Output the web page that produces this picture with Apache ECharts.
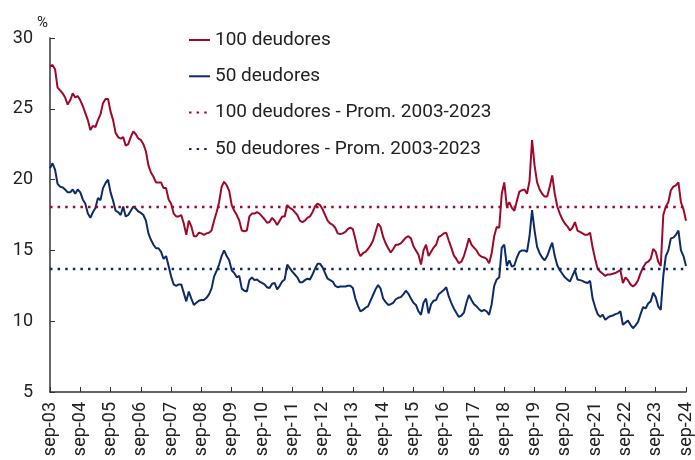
<!DOCTYPE html>
<html>
<head>
<meta charset="utf-8">
<script src="https://cdn.jsdelivr.net/npm/echarts@6/dist/echarts.min.js"></script>
<style>
  html, body { margin: 0; padding: 0; background: #fff; }
  #chart { width: 695px; height: 460px; }
</style>
</head>
<body>
<div id="chart"></div>
<script>
// meses sep-03 .. sep-24
var meses = ["ene", "feb", "mar", "abr", "may", "jun", "jul", "ago", "sep", "oct", "nov", "dic"];
var categorias = [];
for (var k = 0; k <= 252; k++) {
  var m = (8 + k) % 12;
  var a = 3 + Math.floor((8 + k) / 12);
  categorias.push(meses[m] + "-" + (a < 10 ? "0" + a : "" + a));
}

// 100 deudores (%)
var deudores100 = [
  28.0, 28.1, 27.8, 26.5, 26.3, 26.1, 25.8, 25.3, 25.6, 26.1, 25.8, 25.9,
  25.6, 25.2, 24.7, 24.2, 23.5, 23.8, 23.7, 24.2, 24.6, 25.4, 25.7, 25.7,
  24.8, 24.2, 23.3, 23.0, 22.9, 23.0, 22.4, 22.5, 23.0, 23.4, 23.2, 22.9,
  22.8, 22.5, 22.0, 21.0, 20.5, 20.2, 19.8, 19.8, 19.8, 19.4, 19.4, 18.6,
  18.3, 17.6, 17.4, 17.4, 17.5, 16.9, 16.1, 17.1, 16.7, 16.0, 16.0, 16.25,
  16.2, 16.1, 16.2, 16.25, 16.4, 17.1, 17.7, 18.4, 19.5, 19.85, 19.6, 19.2,
  18.2, 17.8, 17.5, 17.1, 16.4, 16.35, 16.4, 17.4, 17.6, 17.6, 17.7, 17.6,
  17.4, 17.2, 16.95, 17.0, 17.3, 17.1, 16.8, 17.1, 17.4, 17.4, 18.2, 18.0,
  17.9, 17.7, 17.5, 17.1, 17.0, 17.1, 17.3, 17.4, 17.7, 18.1, 18.3, 18.2,
  17.9, 17.5, 17.1, 16.9, 16.8, 16.6, 16.2, 16.15, 16.2, 16.3, 16.5, 16.6,
  16.5, 15.8, 15.0, 14.6, 14.8, 14.9, 15.1, 15.35, 15.7, 16.3, 16.9, 16.65,
  15.95, 15.5, 15.15, 14.85, 15.1, 15.4, 15.4, 15.5, 15.7, 15.9, 16.0, 15.85,
  15.3, 15.0, 14.7, 14.0, 15.0, 15.4, 14.6, 14.9, 15.2, 15.4, 15.95, 16.05,
  16.2, 16.25, 15.7, 15.2, 14.65, 14.4, 14.1, 14.2, 14.6, 15.2, 15.85, 15.4,
  15.2, 15.0, 14.7, 14.55, 14.5, 14.4, 14.1, 14.8, 16.0, 16.65, 16.6, 19.0,
  19.8, 18.1, 18.4, 18.0, 17.8, 18.5, 19.15, 19.25, 19.3, 19.0, 19.9, 22.8,
  21.0, 19.8, 19.3, 19.0, 18.8, 18.8, 19.5, 20.3, 19.0, 18.1, 17.6, 17.2,
  16.9, 16.7, 16.4, 16.6, 17.0, 16.4, 16.3, 16.2, 16.1, 16.1, 16.25, 15.2,
  14.4, 13.7, 13.5, 13.35, 13.2, 13.3, 13.3, 13.35, 13.4, 13.5, 13.6, 12.7,
  13.1, 12.9, 12.6, 12.45, 12.6, 12.9, 13.4, 13.8, 14.1, 14.2, 14.4, 15.1,
  14.9, 14.2, 13.9, 17.5, 18.1, 18.4, 19.25, 19.5, 19.6, 19.8, 18.4, 17.9,
  17.1
];

// 50 deudores (%)
var deudores50 = [
  20.8, 21.15, 20.7, 19.7, 19.5, 19.45, 19.3, 19.1, 19.1, 19.3, 19.0, 19.3,
  19.1, 18.6, 18.3, 17.6, 17.3, 17.7, 18.0, 18.7, 18.55, 19.4, 19.75, 20.0,
  19.1, 18.5, 17.8, 17.7, 17.5, 18.1, 17.4, 17.5, 17.8, 18.1, 17.95, 17.75,
  17.65, 17.5, 17.1, 16.2, 15.75, 15.4, 15.15, 15.15, 14.9, 14.4, 14.6, 13.9,
  13.15, 12.6, 12.5, 12.6, 12.6, 12.0, 11.4, 12.1, 11.6, 11.15, 11.3, 11.45,
  11.5, 11.5, 11.65, 11.9, 12.3, 13.15, 13.55, 14.0, 14.6, 15.0, 14.6, 14.3,
  13.6, 13.4, 13.1, 13.2, 12.3, 12.15, 12.1, 12.9, 13.1, 12.9, 12.95, 12.8,
  12.7, 12.6, 12.4, 12.35, 12.65, 12.7, 12.25, 12.5, 12.8, 12.95, 14.0, 13.75,
  13.5, 13.3, 13.1, 12.75, 12.75, 12.9, 13.0, 12.95, 13.3, 13.7, 14.05, 14.05,
  13.8, 13.4, 13.0, 12.9, 12.8, 12.5, 12.4, 12.45, 12.45, 12.45, 12.5, 12.5,
  12.35, 11.6, 11.1, 10.7, 10.8, 10.95, 11.05, 11.45, 11.85, 12.25, 12.55, 12.3,
  11.6, 11.35, 11.15, 11.2, 11.3, 11.55, 11.65, 11.7, 11.9, 12.15, 11.95, 11.6,
  11.3, 11.15, 10.7, 10.45, 11.3, 11.6, 10.55, 11.2, 11.45, 11.5, 11.9, 12.05,
  12.2, 12.4, 11.75, 11.3, 10.9, 10.6, 10.3, 10.4, 10.6, 11.3, 11.85, 11.5,
  11.2, 11.05, 10.85, 10.7, 10.8, 10.7, 10.45, 11.2, 12.5, 12.95, 13.1, 15.2,
  15.4, 13.9, 14.3, 13.85, 13.95, 14.5, 14.9, 15.0, 15.0, 14.9, 16.0, 17.85,
  16.4, 15.25, 14.8, 14.5, 14.3, 14.6, 15.1, 15.55, 14.6, 13.95, 13.6, 13.35,
  13.1, 12.95, 12.8, 13.2, 13.6, 12.95, 12.9, 12.85, 12.75, 12.7, 12.85, 11.6,
  11.0, 10.5, 10.3, 10.45, 10.1, 10.25, 10.35, 10.4, 10.5, 10.55, 10.7, 9.75,
  9.9, 10.05, 9.75, 9.5, 9.7, 9.95, 10.5, 11.0, 10.9, 11.25, 11.4, 12.0,
  11.7, 11.05, 10.8, 13.2, 14.6, 15.0, 15.85, 15.9, 16.1, 16.4, 15.0, 14.6,
  13.9
];

// promedios 2003-2023
var prom100 = 18.07;
var prom50 = 13.69;

var nombres = ["100 deudores", "50 deudores", "100 deudores - Prom. 2003-2023", "50 deudores - Prom. 2003-2023"];
var rojo = "#A0082B";
var azul = "#0D2B6B";

var myChart = echarts.init(document.getElementById("chart"));
var option = {
  animation: false,
  textStyle: { fontFamily: "Roboto" },
  grid: { left: 50, right: 5, top: 38, bottom: 68 },
  graphic: [
    { type: "text", left: 37, top: 16, style: { text: "%", fontSize: 15, fill: "#222", fontFamily: "Roboto" } }
  ],
  legend: {
    data: nombres,
    orient: "vertical",
    left: 183,
    top: 24,
    itemWidth: 21,
    itemHeight: 14,
    itemGap: 14.3,
    itemStyle: { opacity: 0 },
    textStyle: { fontSize: 19, color: "#222", lineHeight: 22 }
  },
  xAxis: {
    type: "category",
    data: categorias,
    boundaryGap: false,
    axisLine: { lineStyle: { color: "#333", width: 1.5 } },
    axisTick: { inside: true, length: 5, interval: 11, lineStyle: { color: "#333" } },
    axisLabel: { interval: 11, rotate: 90, fontSize: 18, color: "#222", margin: 10 },
    splitLine: { show: false }
  },
  yAxis: {
    type: "value",
    min: 5,
    max: 30,
    interval: 5,
    axisLine: { show: true, lineStyle: { color: "#333", width: 1.5 } },
    axisTick: { show: true, inside: true, length: 5, lineStyle: { color: "#333" } },
    axisLabel: { fontSize: 18, color: "#222", margin: 17 },
    splitLine: { show: false }
  },
  series: [
    {
      name: nombres[0], type: "line", data: deudores100, symbol: "none",
      lineStyle: { color: rojo, width: 2 }, itemStyle: { color: rojo }
    },
    {
      name: nombres[1], type: "line", data: deudores50, symbol: "none",
      lineStyle: { color: azul, width: 2 }, itemStyle: { color: azul }
    },
    {
      name: nombres[2], type: "line", symbol: "none",
      data: [[categorias[0], prom100], [categorias[252], prom100]],
      lineStyle: { color: rojo, width: 2.5, type: [2.5, 5.1] }, itemStyle: { color: rojo }
    },
    {
      name: nombres[3], type: "line", symbol: "none",
      data: [[categorias[0], prom50], [categorias[252], prom50]],
      lineStyle: { color: azul, width: 2.5, type: [2.5, 5.1] }, itemStyle: { color: azul }
    }
  ]
};
myChart.setOption(option);
</script>
</body>
</html>
